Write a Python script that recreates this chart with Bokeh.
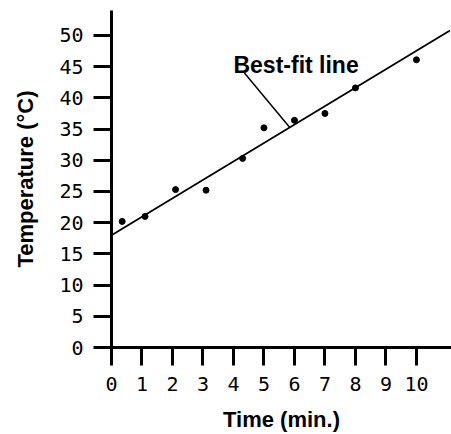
from bokeh.plotting import figure
from bokeh.models import Range1d, FixedTicker, Label
from bokeh.embed import file_html
from bokeh.resources import INLINE

# Data
time_min = [0.35, 1.1, 2.1, 3.1, 4.3, 5.0, 6.0, 7.0, 8.0, 10.0]
temp_c = [20.2, 21.0, 25.3, 25.2, 30.3, 35.2, 36.4, 37.5, 41.6, 46.1]

# Best-fit line as drawn
fit_time = [0.0, 11.1]
fit_temp = [18.0, 50.8]

# Leader line from label to fit line
leader_time = [4.36, 5.84]
leader_temp = [44.0, 35.3]

x_ticks = list(range(0, 11))
y_ticks = list(range(0, 55, 5))

p = figure(width=451, height=434, output_backend="svg", toolbar_location=None,
           x_range=Range1d(0, 11.15), y_range=Range1d(0, 54),
           min_border_left=111, min_border_right=0, min_border_top=10,
           min_border_bottom=86)
p.outline_line_color = None
p.grid.visible = False
p.background_fill_color = "white"
p.border_fill_color = "white"

p.line(fit_time, fit_temp, line_color="black", line_width=1.8)
p.line(leader_time, leader_temp, line_color="black", line_width=1.5)
p.scatter(time_min, temp_c, size=6, color="black")

p.add_layout(Label(x=4.0, y=45.3, text="Best-fit line", text_font="Liberation Sans",
                   text_font_style="bold", text_font_size="23px", text_color="black",
                   text_baseline="alphabetic", text_align="left"))

for ax in (p.xaxis[0], p.yaxis[0]):
    ax.axis_line_width = 3
    ax.axis_line_color = "black"
    ax.major_tick_line_width = 3
    ax.major_tick_line_color = "black"
    ax.major_tick_out = 18
    ax.major_tick_in = 0
    ax.minor_tick_line_color = None
    ax.major_label_text_font = "DejaVu Sans Mono"
    ax.major_label_text_font_size = "20px"
    ax.major_label_text_color = "black"
    ax.axis_label_text_font = "Liberation Sans"
    ax.axis_label_text_font_style = "bold"
    ax.axis_label_text_font_size = "22px"
    ax.axis_label_text_color = "black"

p.xaxis[0].ticker = FixedTicker(ticks=x_ticks)
p.yaxis[0].ticker = FixedTicker(ticks=y_ticks)
p.xaxis[0].axis_label = "Time (min.)"
p.yaxis[0].axis_label = "Temperature (°C)"
p.xaxis[0].major_label_standoff = 11
p.xaxis[0].axis_label_standoff = 13
p.yaxis[0].major_label_standoff = 10
p.yaxis[0].axis_label_standoff = 18

open("out.html", "w").write(file_html(p, INLINE))
